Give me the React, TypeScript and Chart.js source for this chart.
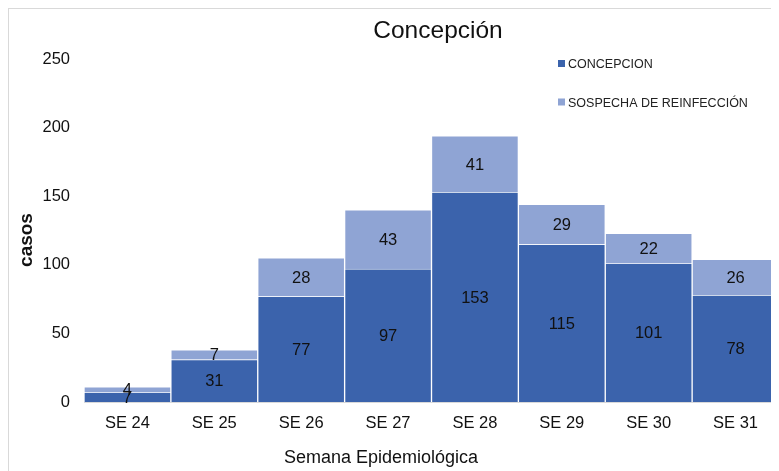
import React, { useEffect, useRef } from "react";
import { Chart, registerables } from "chart.js";

Chart.register(...registerables);

const categories = ["SE 24", "SE 25", "SE 26", "SE 27", "SE 28", "SE 29", "SE 30", "SE 31"];
const concepcion = [7, 31, 77, 97, 153, 115, 101, 78];
const reinfeccion = [4, 7, 28, 43, 41, 29, 22, 26];
const seriesNames = ["CONCEPCION", "SOSPECHA DE REINFECCIÓN"];
const chartTitle = "Concepción";
const xTitle = "Semana Epidemiológica";
const yTitle = "casos";

const DARK = "#3B63AC";
const LIGHT = "#8FA4D4";
const FONT = "'Liberation Sans', Arial, sans-serif";

const overlayPlugin = {
  id: "overlay",
  afterDatasetsDraw(chart: any) {
    const ctx = chart.ctx;
    ctx.save();
    ctx.fillStyle = "#111";
    ctx.font = `16.5px ${FONT}`;
    ctx.textAlign = "center";
    ctx.textBaseline = "middle";
    chart.data.datasets.forEach((ds: any, di: number) => {
      const meta = chart.getDatasetMeta(di);
      meta.data.forEach((el: any, i: number) => {
        const v = ds.data[i];
        const cy = (el.y + el.base) / 2;
        ctx.fillText(String(v), el.x, cy + 1);
      });
    });
    ctx.restore();
  },
  afterDraw(chart: any) {
    const ctx = chart.ctx;
    ctx.save();
    ctx.fillStyle = "#111";
    ctx.font = `24.5px ${FONT}`;
    ctx.textAlign = "center";
    ctx.textBaseline = "alphabetic";
    ctx.fillText(chartTitle, 429, 29);
    const colors = [DARK, LIGHT];
    const baselines = [59, 97.5];
    ctx.font = `12.5px ${FONT}`;
    ctx.textAlign = "left";
    seriesNames.forEach((name, i) => {
      ctx.fillStyle = colors[i];
      ctx.fillRect(549, baselines[i] - 8, 7, 7);
      ctx.fillStyle = "#222";
      ctx.fillText(name, 559, baselines[i]);
    });
    ctx.fillStyle = "#111";
    ctx.font = `18px ${FONT}`;
    ctx.textAlign = "center";
    ctx.fillText(xTitle, 372, 454);
    ctx.translate(18, 231);
    ctx.rotate(-Math.PI / 2);
    ctx.font = `bold 19px ${FONT}`;
    ctx.textBaseline = "middle";
    ctx.fillText(yTitle, 0, 0);
    ctx.restore();
  },
};

export default function App() {
  const ref = useRef<HTMLCanvasElement>(null);
  useEffect(() => {
    if (!ref.current) return;
    const chart = new Chart(ref.current, {
      type: "bar",
      data: {
        labels: categories,
        datasets: [
          {
            label: seriesNames[0],
            data: concepcion,
            backgroundColor: DARK,
            borderColor: "rgba(255,255,255,0.15)",
            borderWidth: 1,
            categoryPercentage: 1,
            barPercentage: 1,
          },
          {
            label: seriesNames[1],
            data: reinfeccion,
            backgroundColor: LIGHT,
            borderColor: "rgba(255,255,255,0.15)",
            borderWidth: 1,
            categoryPercentage: 1,
            barPercentage: 1,
          },
        ],
      },
      options: {
        responsive: false,
        animation: false,
        layout: { padding: { top: 50, right: 0, left: 0, bottom: 0 } },
        plugins: {
          legend: { display: false },
          title: { display: false },
          tooltip: { enabled: false },
        },
        scales: {
          x: {
            stacked: true,
            grid: { display: false, drawTicks: false },
            border: { display: true, color: "#d9d9d9", width: 1 },
            ticks: { color: "#111", font: { family: FONT, size: 16.5 }, padding: 12 },
            afterFit: (s: any) => {
              s.height = 69;
            },
          },
          y: {
            stacked: true,
            min: 0,
            max: 250,
            grid: { display: false, drawTicks: false },
            border: { display: false },
            ticks: { stepSize: 50, color: "#111", font: { family: FONT, size: 16.5 }, padding: 14 },
            afterFit: (s: any) => {
              s.width = 75;
            },
          },
        },
      },
      plugins: [overlayPlugin],
    });
    return () => chart.destroy();
  }, []);
  return (
    <div
      style={{
        width: 770,
        height: 462,
        borderTop: "1px solid #d9d9d9",
        borderLeft: "1px solid #d9d9d9",
        background: "#fff",
      }}
    >
      <canvas ref={ref} width={770} height={462} style={{ display: "block" }} />
    </div>
  );
}
